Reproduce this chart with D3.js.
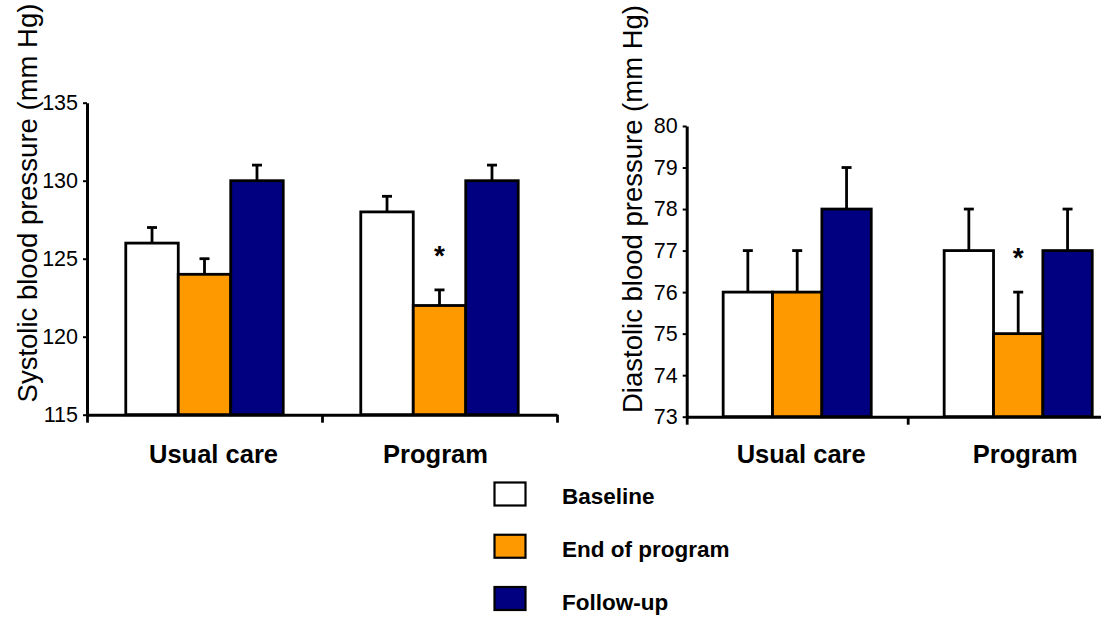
<!DOCTYPE html>
<html>
<head>
<meta charset="utf-8">
<script src="https://cdn.jsdelivr.net/npm/d3@7/dist/d3.min.js"></script>
<style>
  html, body { margin: 0; padding: 0; background: #fff; }
  svg { display: block; font-family: Arial, "Liberation Sans", Helvetica, sans-serif; }
</style>
</head>
<body>
<svg id="chart" width="1101" height="619"></svg>
<script>
// Study arms and measurement phases
const groups = ["Usual care", "Program"];
const phases = ["Baseline", "End of program", "Follow-up"];
const phaseColors = ["#ffffff", "#ff9900", "#000080"];

// Systolic blood pressure (mm Hg): mean and SEM per arm, per phase
const sbpMean = [[126, 124, 130], [128, 122, 130]];
const sbpErr  = [[1, 1, 1], [1, 1, 1]];
const sbpTicks = [115, 120, 125, 130, 135];

// Diastolic blood pressure (mm Hg)
const dbpMean = [[76, 76, 78], [77, 75, 77]];
const dbpErr  = [[1, 1, 1], [1, 1, 1]];
const dbpTicks = [73, 74, 75, 76, 77, 78, 79, 80];

// Significant difference vs. baseline
const sbpSig = [[false, false, false], [false, true, false]];
const dbpSig = [[false, false, false], [false, true, false]];

const svg = d3.select("#chart");
const LW = 2.8;

function panel(cfg) {
  const g = svg.append("g");
  const y = d3.scaleLinear().domain([cfg.ticks[0], cfg.ticks[cfg.ticks.length - 1]])
    .range([cfg.bottom, cfg.top]);
  const x0 = d3.scaleBand().domain(groups).range([cfg.left, cfg.left + cfg.band * groups.length])
    .paddingInner(0).paddingOuter(0);
  const groupW = x0.bandwidth() * 0.67;
  const x1 = d3.scaleBand().domain(phases).range([0, groupW]).padding(0);
  const off = (x0.bandwidth() - groupW) / 2;

  const rows = [];
  groups.forEach((grp, gi) => phases.forEach((ph, pi) => rows.push({
    grp, ph, pi, v: cfg.mean[gi][pi], e: cfg.err[gi][pi], sig: cfg.sig[gi][pi]
  })));

  const bx = d => x0(d.grp) + off + x1(d.ph);

  // Error bars (upper whisker only)
  const eb = g.append("g").attr("stroke", "#000").attr("stroke-width", LW);
  eb.selectAll("line.v").data(rows).join("line").attr("class", "v")
    .attr("x1", d => bx(d) + x1.bandwidth() / 2).attr("x2", d => bx(d) + x1.bandwidth() / 2)
    .attr("y1", d => y(d.v)).attr("y2", d => y(d.v + d.e));
  eb.selectAll("line.c").data(rows).join("line").attr("class", "c")
    .attr("x1", d => bx(d) + x1.bandwidth() / 2 - 5).attr("x2", d => bx(d) + x1.bandwidth() / 2 + 5)
    .attr("y1", d => y(d.v + d.e)).attr("y2", d => y(d.v + d.e));

  // Bars
  g.append("g").selectAll("rect").data(rows).join("rect")
    .attr("x", bx).attr("width", x1.bandwidth())
    .attr("y", d => y(d.v)).attr("height", d => y.range()[0] - y(d.v))
    .attr("fill", d => phaseColors[d.pi]).attr("stroke", "#000").attr("stroke-width", LW);

  // Significance markers
  g.append("g").selectAll("text").data(rows.filter(d => d.sig)).join("text")
    .attr("x", d => bx(d) + x1.bandwidth() / 2)
    .attr("y", d => y(d.v + d.e) - 25)
    .attr("text-anchor", "middle").attr("font-size", 28).attr("font-weight", "bold")
    .text("*");

  // Y axis
  const ya = g.append("g").attr("transform", `translate(${cfg.left},0)`)
    .call(d3.axisLeft(y).tickValues(cfg.ticks).tickFormat(d3.format("d"))
      .tickSize(4).tickSizeOuter(0).tickPadding(5));
  ya.select(".domain").attr("stroke-width", LW + 0.2);
  ya.selectAll(".tick line").attr("stroke-width", 2);
  ya.selectAll(".tick text").attr("font-size", 21.5).attr("fill", "#000")
    .attr("font-family", "Arial, 'Liberation Sans', sans-serif");

  // X axis with ticks on group boundaries
  const xb = d3.scaleLinear().domain([0, groups.length]).range(x0.range());
  const xa = g.append("g").attr("transform", `translate(0,${cfg.bottom})`)
    .call(d3.axisBottom(xb).tickValues(d3.range(groups.length + 1)).tickSize(8).tickSizeOuter(0).tickFormat(""));
  xa.select(".domain").attr("stroke-width", LW + 0.2);
  xa.selectAll(".tick line").attr("stroke-width", LW);

  // Group labels
  g.append("g").selectAll("text").data(groups).join("text")
    .attr("x", (d, i) => x0(d) + x0.bandwidth() / 2 + cfg.labelShift[i])
    .attr("y", 463)
    .attr("text-anchor", "middle").attr("font-size", 25.5).attr("font-weight", "bold")
    .text(d => d);

  // Y-axis title
  g.append("text")
    .attr("transform", `translate(${cfg.titleX},${cfg.titleY}) rotate(-90)`)
    .attr("text-anchor", "middle").attr("font-size", 27.5)
    .text(cfg.title);
}

panel({
  mean: sbpMean, err: sbpErr, sig: sbpSig, ticks: sbpTicks,
  left: 87, band: 235, top: 102.7, bottom: 414.7,
  labelShift: [9, -4], titleX: 37, titleY: 203,
  title: "Systolic blood pressure (mm Hg)"
});
panel({
  mean: dbpMean, err: dbpErr, sig: dbpSig, ticks: dbpTicks,
  left: 686.7, band: 221, top: 126, bottom: 416.7,
  labelShift: [4, 7], titleX: 642, titleY: 209,
  title: "Diastolic blood pressure (mm Hg)"
});

// Legend
const lg = svg.append("g").attr("transform", "translate(494.5,482.5)");
const ly = d3.scalePoint().domain(phases).range([0, 104.5]);
const items = lg.selectAll("g").data(phases).join("g")
  .attr("transform", d => `translate(0,${ly(d)})`);
items.append("rect").attr("width", 31).attr("height", 23)
  .attr("fill", (d, i) => phaseColors[i]).attr("stroke", "#000").attr("stroke-width", 2.2);
items.append("text").attr("x", 67.5).attr("y", d => 21 + (phases.indexOf(d) * 1))
  .attr("font-size", 22.5).attr("font-weight", "bold").text(d => d);
</script>
</body>
</html>
